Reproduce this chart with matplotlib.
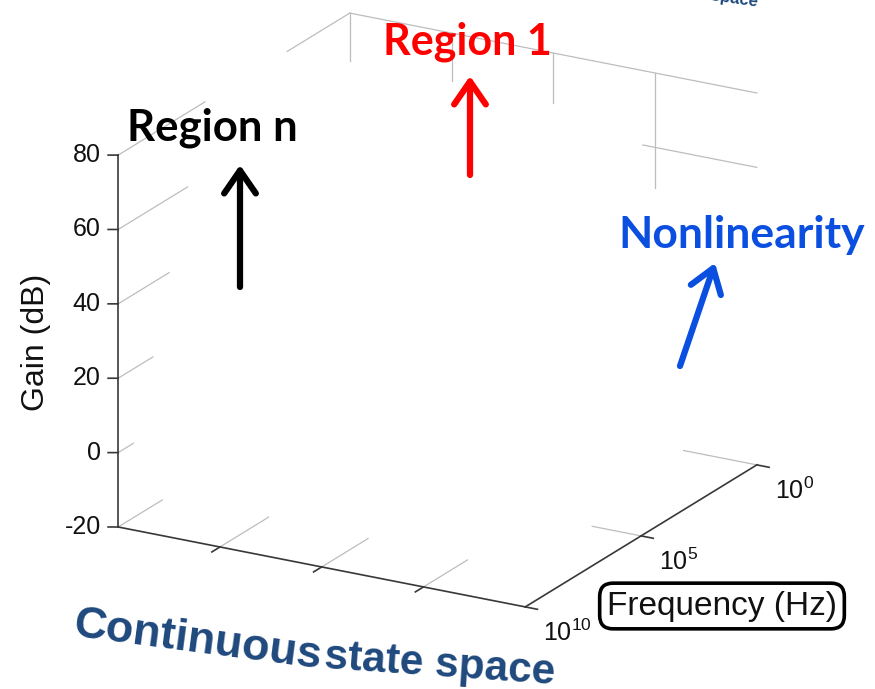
import matplotlib
matplotlib.use("Agg")
import matplotlib.pyplot as plt
import numpy as np

plt.rcParams["mathtext.fontset"] = "custom"
plt.rcParams["mathtext.rm"] = "Liberation Sans"
plt.rcParams["mathtext.it"] = "Liberation Sans:italic"
plt.rcParams["font.family"] = ["Liberation Sans", "DejaVu Sans"]

# ---- axis ranges and ticks ----
state_lim = (0, 4)                 # continuous state axis (unlabelled)
state_ticks = [1, 2, 3]
freq_lim = (10, 0)                 # log10(f / Hz): high frequencies at the front
freq_ticks = [0, 5, 10]
freq_labels = [r"$10^{0}$", r"$10^{5}$", r"$10^{10}$"]
gain_lim = (-20, 80)
gain_ticks = [-20, 0, 20, 40, 60, 80]
gain_labels = ["-20", "0", "20", "40", "60", "80"]

# ---- visible stretch of each guide line, as a fraction of its full length ----
side_gain_reach = [0.19, 0.065, 0.15, 0.22, 0.30, 0.375]
floor_state_reach = [0.21, 0.20, 0.19]
floor_freq_reach = [0.18, 0.12]           # freq ticks 10^0 and 10^5
back_state_reach = [0.13, 0.135, 0.31]

W, H = 875, 689
fig = plt.figure(figsize=(W / 100, H / 100), dpi=100)

# square 3-D axes, box centred at (437.5, 379) px from bottom-left
S = 800
cx, cy = 437.5, 379.0
off = 0.5135 * S
ax = fig.add_axes([(cx - off) / W, (cy - off) / H, S / W, S / H], projection="3d")
ax.set_proj_type("ortho")
ax.view_init(elev=20.3, azim=-60.5)
ax.set_box_aspect((467.8, 470.4, 396.6), zoom=750.2 / S)
ax.set_xlim(*state_lim)
ax.set_ylim(*freq_lim)
ax.set_zlim(*gain_lim)
ax.set_axis_off()

x0, x1 = state_lim
yf, yb = freq_lim          # front, back
z0, z1 = gain_lim

grid_kw = dict(color="#bdbdbd", lw=0.9, clip_on=False)
edge_kw = dict(color="#383838", lw=1.2, clip_on=False)


def seg(p, q, **kw):
    ax.plot([p[0], q[0]], [p[1], q[1]], [p[2], q[2]], **kw)


# side wall (x = x0): gain grid lines running back from the gain axis
for z, f in zip(gain_ticks, side_gain_reach):
    seg((x0, yf, z), (x0, yf + f * (yb - yf), z), **grid_kw)
# back end of the top side edge
seg((x0, yb, z1), (x0, yb + 0.27 * (yf - yb), z1), **grid_kw)
# top back edge and back corner post
seg((x0, yb, z1), (x1, yb, z1), **grid_kw)
seg((x0, yb, z1), (x0, yb, z1 - 0.13 * (z1 - z0)), **grid_kw)
# back wall: state grid lines hanging from the top edge
for x, f in zip(state_ticks, back_state_reach):
    seg((x, yb, z1), (x, yb, z1 - f * (z1 - z0)), **grid_kw)
# back wall: 60 dB line near the far corner
seg((x1, yb, 60), (x1 - 0.28 * (x1 - x0), yb, 60), **grid_kw)
# floor: state grid lines
for x, f in zip(state_ticks, floor_state_reach):
    seg((x, yf, z0), (x, yf + f * (yb - yf), z0), **grid_kw)
# floor: frequency grid lines
for y, f in zip(freq_ticks[:2], floor_freq_reach):
    seg((x1, y, z0), (x1 - f * (x1 - x0), y, z0), **grid_kw)

# front axis lines
seg((x0, yf, z0), (x0, yf, z1), **edge_kw)
seg((x0, yf, z0), (x1, yf, z0), **edge_kw)
seg((x1, yf, z0), (x1, yb, z0), **edge_kw)

# tick marks and labels
for z, lab in zip(gain_ticks, gain_labels):
    seg((x0, yf, z), (x0 - 0.075, yf + 0.105, z), **edge_kw)
    ax.text(x0 - 0.13, yf + 0.18, z, lab, ha="right", va="center",
            fontsize=18, color="#111111")
for x in state_ticks:
    seg((x, yf, z0), (x, yf + 0.35, z0), **edge_kw)
for y, lab in zip(freq_ticks, freq_labels):
    seg((x1, y, z0), (x1 + 0.12, y, z0), **edge_kw)
    ax.text(x1 + 0.29, y + 0.5, z0, lab, ha="left", va="top",
            fontsize=18, color="#111111")

# ---- overlay in pixel coordinates for labels and callouts ----
ov = fig.add_axes([0, 0, 1, 1])
ov.set_xlim(0, W)
ov.set_ylim(H, 0)
ov.set_axis_off()

ov.text(36, 342, "Gain (dB)", rotation=90, ha="center", va="center",
        fontsize=23, color="#111111")
ov.text(722, 606, "Frequency (Hz)", ha="center", va="center", fontsize=24,
        color="#111111",
        bbox=dict(boxstyle="round,pad=0.22,rounding_size=0.4", fc="white",
                  ec="black", lw=2.6))

callout = ["Lato", "DejaVu Sans"]
ov.text(212, 128, "Region n", ha="center", va="center", fontsize=31.5,
        fontweight="bold", family=callout, color="black")
ov.text(467, 42, "Region 1", ha="center", va="center", fontsize=31,
        fontweight="bold", family=callout, color="#ff0000")
ov.text(742, 235, "Nonlinearity", ha="center", va="center", fontsize=32,
        fontweight="bold", family=callout, color="#0a4fe0")

arrow_style = "->,head_length=0.55,head_width=0.38"
for (xa, ya), (xb, yb_), col in [((240, 287), (240, 165), "black"),
                                 ((470, 175), (470, 76), "#ff0000"),
                                 ((680, 366), (715, 263), "#0a4fe0")]:
    ov.annotate("", xy=(xb, yb_), xytext=(xa, ya),
                arrowprops=dict(arrowstyle=arrow_style, lw=4.5, color=col,
                                shrinkA=0, shrinkB=0, mutation_scale=30))

caption = dict(family=["Liberation Sans", "DejaVu Sans"], fontweight="bold",
               color="#1f497d")
ov.text(72, 636, "Continuous", ha="left", va="baseline", rotation=-7.5,
        rotation_mode="anchor", fontsize=32.5, **caption)
ov.text(324, 668, "state space", ha="left", va="baseline", rotation=-4,
        rotation_mode="anchor", fontsize=30.5, **caption)
ov.text(757, 7, "state space", ha="right", va="baseline", rotation=-8,
        rotation_mode="anchor", fontsize=12, **caption)

fig.savefig("out.png", dpi=100)
